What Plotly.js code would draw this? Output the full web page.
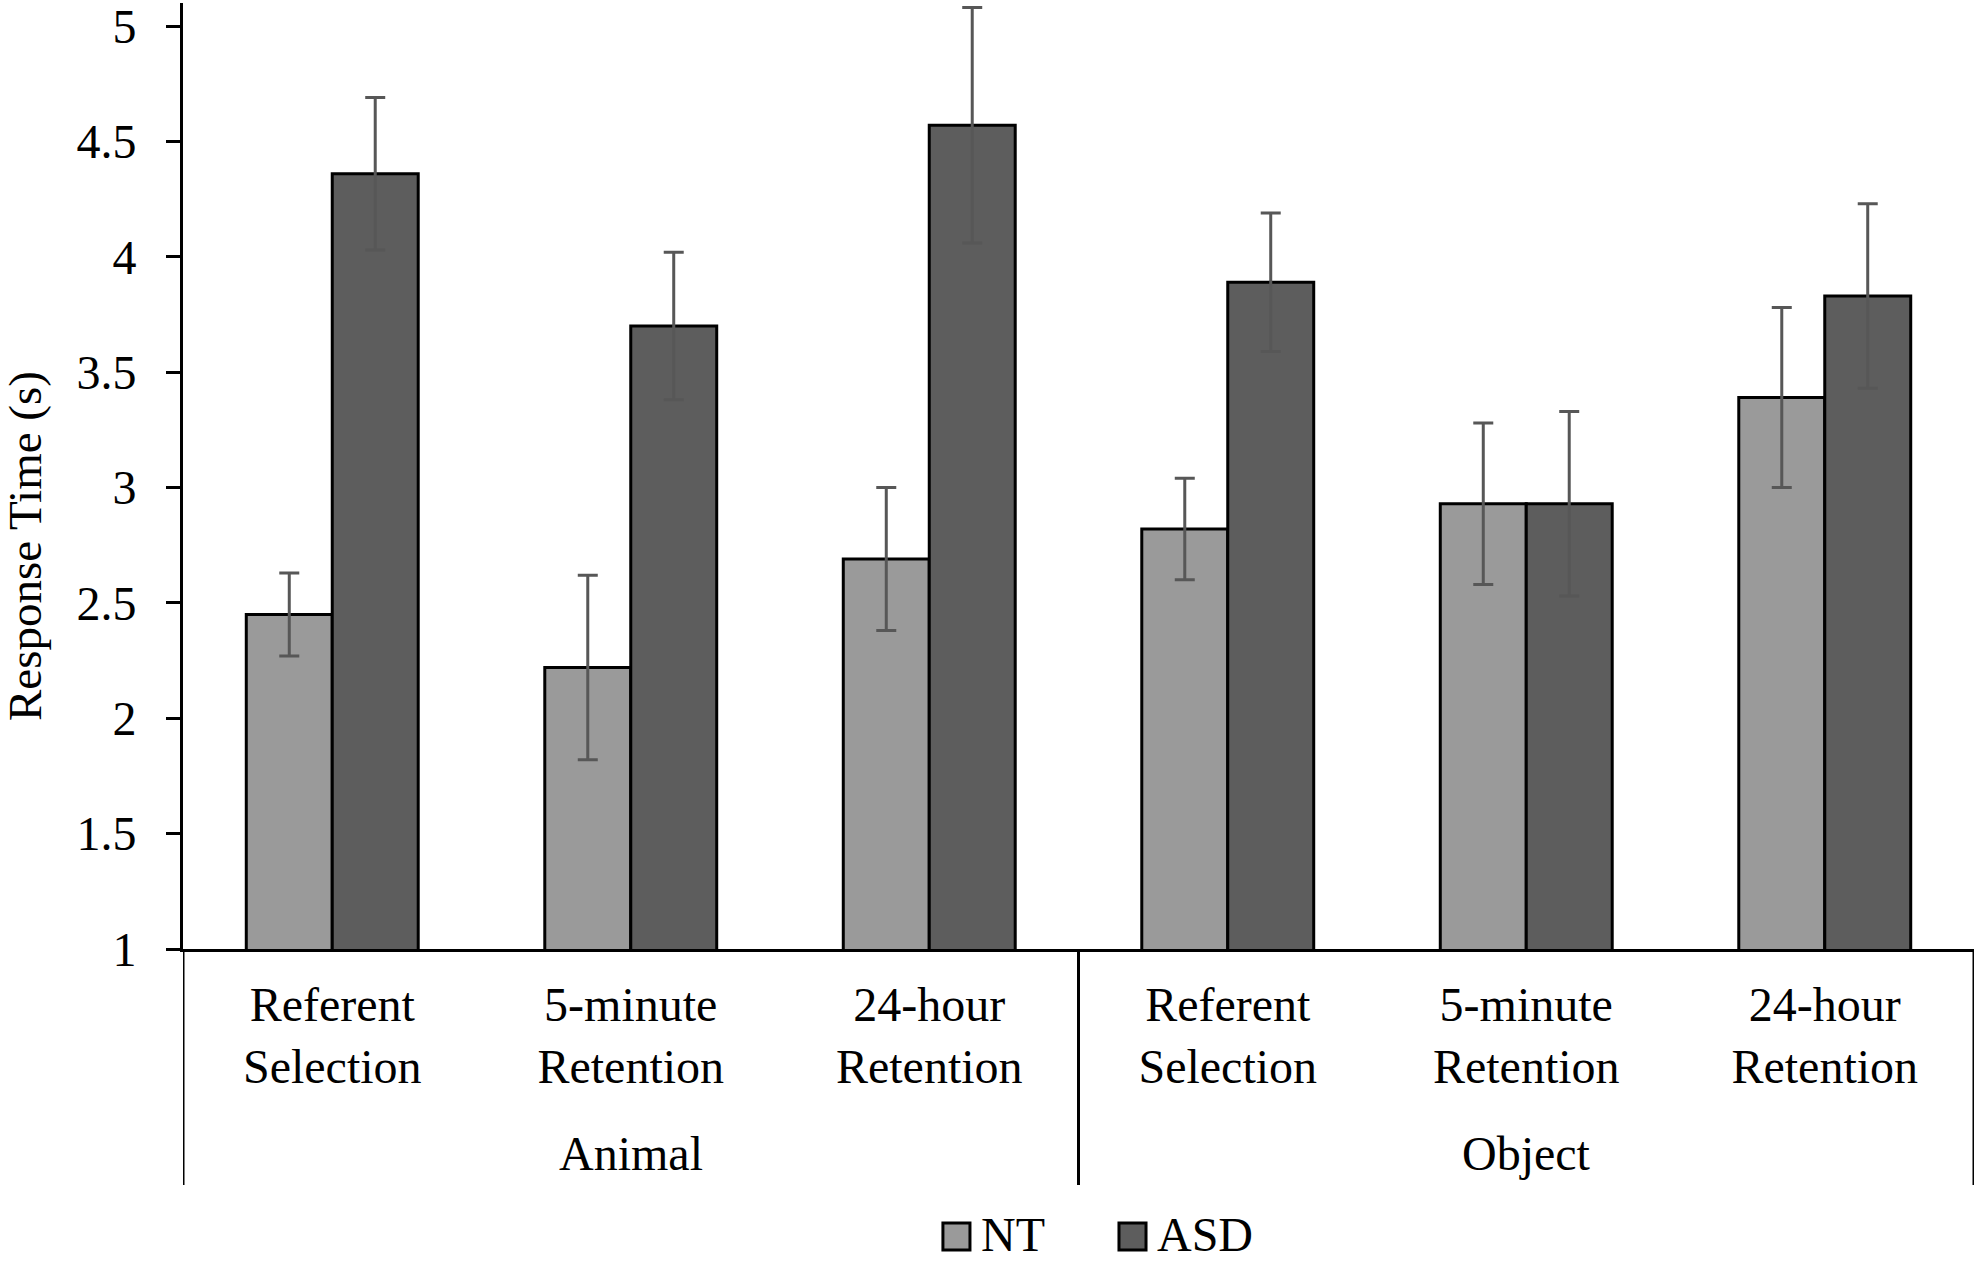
<!DOCTYPE html>
<html>
<head>
<meta charset="utf-8">
<script src="https://cdn.plot.ly/plotly-3.0.1.min.js"></script>
<style>
  html, body { margin: 0; padding: 0; background: #ffffff; }
  #chart { width: 1978px; height: 1262px; }
</style>
</head>
<body>
<div id="chart"></div>
<script>
// ---- data ----
var groupNames = ["Animal", "Object"];
var groups = ["Animal", "Animal", "Animal", "Object", "Object", "Object"];
var conditions = ["Referent<br>Selection", "5-minute<br>Retention", "24-hour<br>Retention",
                  "Referent<br>Selection", "5-minute<br>Retention", "24-hour<br>Retention"];
var ntValues  = [2.45, 2.22, 2.69, 2.82, 2.93, 3.39];
var ntErrors  = [0.18, 0.40, 0.31, 0.22, 0.35, 0.39];
var asdValues = [4.36, 3.70, 4.57, 3.89, 2.93, 3.83];
var asdErrors = [0.33, 0.32, 0.51, 0.30, 0.40, 0.40];
var seriesNames = ["NT", "ASD"];
var seriesColors = ["#9a9a9a", "#5d5d5d"];
var yTicks = [1, 1.5, 2, 2.5, 3, 3.5, 4, 4.5, 5];
var yTickText = ["1", "1.5", "2", "2.5", "3", "3.5", "4", "4.5", "5"];

var FONT = '"Liberation Serif", "Times New Roman", Times, serif';

// unique category keys (group + condition) so repeated condition names stay separate
var xKeys = groups.map(function (g, i) { return g + " | " + conditions[i]; });

var errStyle = function (arr) {
  return { type: 'data', array: arr, visible: true, color: '#575757', thickness: 3, width: 10 };
};

var traces = [
  {
    type: 'bar', name: seriesNames[0], x: xKeys, y: ntValues,
    error_y: errStyle(ntErrors),
    marker: { color: seriesColors[0], line: { color: '#000000', width: 3 } }
  },
  {
    type: 'bar', name: seriesNames[1], x: xKeys, y: asdValues,
    error_y: errStyle(asdErrors),
    marker: { color: seriesColors[1], line: { color: '#000000', width: 3 } }
  }
];

// group labels and dividers (in category coordinates)
var annotations = [];
var shapes = [];
groupNames.forEach(function (g) {
  var idx = [];
  groups.forEach(function (gg, i) { if (gg === g) idx.push(i); });
  var mid = (idx[0] + idx[idx.length - 1]) / 2;
  annotations.push({
    text: g, xref: 'x', yref: 'paper', x: mid, y: -0.2167,
    xanchor: 'center', yanchor: 'middle', showarrow: false,
    font: { family: FONT, size: 48, color: '#000000' }
  });
});
var dividerPos = [-0.5];
for (var i = 1; i < groups.length; i++) { if (groups[i] !== groups[i - 1]) dividerPos.push(i - 0.5); }
dividerPos.push(groups.length - 0.5);
dividerPos.forEach(function (p) {
  shapes.push({
    type: 'line', xref: 'x', yref: 'paper', x0: p, x1: p, y0: 0, y1: -0.2495,
    line: { color: '#000000', width: 3 }
  });
});

// y axis title
annotations.push({
  text: 'Response Time (s)', xref: 'paper', yref: 'paper',
  x: -0.0882, y: 0.426, xanchor: 'center', yanchor: 'middle',
  textangle: -90, showarrow: false,
  font: { family: FONT, size: 47, color: '#000000' }
});

// custom legend (larger swatches like the original)
var legendItems = [
  { x0: 0.4243, x1: 0.4394, tx: 0.4445 },
  { x0: 0.5226, x1: 0.5377, tx: 0.5427 }
];
legendItems.forEach(function (it, k) {
  shapes.push({
    type: 'rect', xref: 'paper', yref: 'paper',
    x0: it.x0, x1: it.x1, y0: -0.3182, y1: -0.2897,
    fillcolor: seriesColors[k], line: { color: '#000000', width: 3 }
  });
  annotations.push({
    text: seriesNames[k], xref: 'paper', yref: 'paper',
    x: it.tx, y: -0.3013, xanchor: 'left', yanchor: 'middle',
    showarrow: false, font: { family: FONT, size: 48, color: '#000000' }
  });
});

var layout = {
  width: 1978,
  height: 1262,
  paper_bgcolor: '#ffffff',
  plot_bgcolor: '#ffffff',
  margin: { l: 183, r: 4, t: 3, b: 313, pad: 0 },
  font: { family: FONT, size: 48, color: '#000000' },
  barmode: 'group',
  bargap: 0.424,
  bargroupgap: 0,
  showlegend: false,
  xaxis: {
    type: 'category',
    automargin: false,
    range: [-0.5, groups.length - 0.5],
    tickvals: xKeys,
    ticktext: conditions,
    showline: true,
    linecolor: '#000000',
    linewidth: 3,
    ticks: '',
    ticklabelstandoff: 11,
    showgrid: false,
    zeroline: false,
    tickfont: { family: FONT, size: 48, color: '#000000' }
  },
  yaxis: {
    automargin: false,
    range: [1, 5.1],
    tickvals: yTicks,
    ticktext: yTickText,
    showline: true,
    linecolor: '#000000',
    linewidth: 3,
    ticks: 'outside',
    ticklen: 14,
    tickwidth: 3,
    tickcolor: '#000000',
    ticklabelstandoff: 20,
    ticklabeloverflow: 'allow',
    showgrid: false,
    zeroline: false,
    tickfont: { family: FONT, size: 48, color: '#000000' }
  },
  annotations: annotations,
  shapes: shapes
};

Plotly.newPlot('chart', traces, layout, { displayModeBar: false, staticPlot: true });
</script>
</body>
</html>
